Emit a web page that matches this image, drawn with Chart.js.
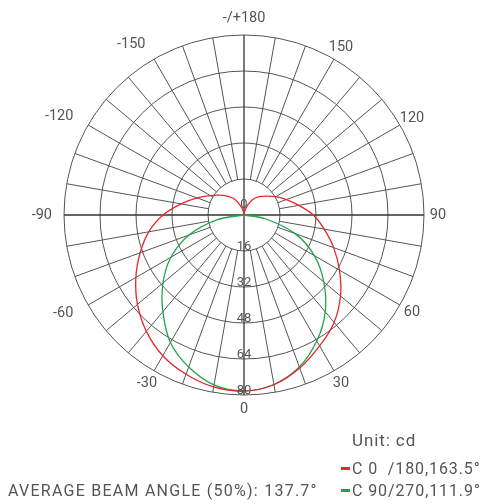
<!DOCTYPE html>
<html>
<head>
<meta charset="utf-8">
<script src="https://cdn.jsdelivr.net/npm/chart.js@4/dist/chart.umd.min.js"></script>
<style>
  html, body { margin: 0; padding: 0; background: #fff; }
  #wrap { position: relative; width: 485px; height: 504px; }
  .note { position: absolute; font-family: Roboto, sans-serif; color: #555; font-size: 16px; white-space: pre; line-height: 20px; letter-spacing: 0.9px; }
  .dash { display: inline-block; width: 9px; height: 3px; vertical-align: middle; margin-right: 2px; position: relative; top: -1px; }
</style>
</head>
<body>
<div id="wrap">
  <canvas id="polarChart" width="485" height="504"></canvas>
  <div class="note" style="left:352px; top:430px; font-size:17px;">Unit: cd</div>
  <div class="note" style="left:341px; top:459px;"><span class="dash" style="background:#e8262d"></span>C 0  /180,163.5°</div>
  <div class="note" style="left:341px; top:481px;"><span class="dash" style="background:#1ca64b"></span>C 90/270,111.9°</div>
  <div class="note" style="left:8px; top:481px; letter-spacing:1.25px;">AVERAGE BEAM ANGLE (50%): 137.7°</div>
</div>
<script>
// angles clockwise from the top of the diagram
const angles = [180, 170, 160, 150, 140, 130, 120, 110, 100, 90, 80, 70, 60, 50, 40, 30, 20, 10,
                0, -10, -20, -30, -40, -50, -60, -70, -80, -90, -100, -110, -120, -130, -140, -150, -160, -170];

// C0/180 plane (cd)
const c0Values = [0, 1.5, 4.7, 8.1, 10.6, 13.1, 16.3, 20.1, 24.7, 30.8, 36.2, 42.4, 49, 56, 62.3, 67.2, 72.4, 76.6,
                  78.3, 77.6, 75.3, 72.2, 67.5, 61.8, 55.5, 49.1, 43, 36, 28.4, 22.2, 17.3, 13.7, 10.8, 8, 4.2, 1.5];

// C90/270 plane (cd)
const c90Values = [0, 0, 0, 0, 0, 0, 0, 0, 0, 0, 9.6, 24.2, 36.1, 46.3, 56.2, 64.7, 71.9, 76.5,
                   78.2, 76.7, 71.9, 65.4, 56.1, 47, 37.5, 26, 12, 0, 0, 0, 0, 0, 0, 0, 0, 0];

const radialTicks = [0, 16, 32, 48, 64, 80];

const gridColor = '#555';
const textColor = '#555';

// how each angle label sits outside the outer ring
function labelPlacement(a) {
    if (a === 180) return { align: 'center', gap: 17 };
    if (a === 0 || a === -30 || a > 0) return { align: 'center', gap: 14 };
    if (a === -90) return { align: 'right', gap: 12 };
    return { align: 'right', gap: 17 };
}

// spokes, angle labels and intensity labels
const polarGrid = {
    id: 'polarGrid',
    beforeDatasetsDraw(chart) {
        const r = chart.scales.r;
        const ctx = chart.ctx;
        const inner = r.getDistanceFromCenterForValue(16);
        const outer = r.getDistanceFromCenterForValue(80);
        ctx.save();
        angles.forEach((a, i) => {
            const axis = a % 90 === 0;
            const from = r.getPointPosition(i, axis ? 0 : inner);
            const to = r.getPointPosition(i, outer);
            ctx.strokeStyle = axis ? '#333' : gridColor;
            ctx.lineWidth = axis ? 1.3 : 1;
            ctx.beginPath();
            ctx.moveTo(from.x, from.y);
            ctx.lineTo(to.x, to.y);
            ctx.stroke();
        });

        ctx.fillStyle = textColor;
        ctx.font = '14.5px Roboto, sans-serif';
        ctx.textBaseline = 'middle';
        angles.forEach((a, i) => {
            if (a % 30 !== 0) return;
            const place = labelPlacement(a);
            const p = r.getPointPosition(i, r.drawingArea + place.gap);
            ctx.textAlign = place.align;
            ctx.fillText(a === 180 ? '-/+180' : String(a), p.x, p.y);
        });
        ctx.restore();
    },
    afterDatasetsDraw(chart) {
        const r = chart.scales.r;
        const ctx = chart.ctx;
        ctx.save();
        ctx.fillStyle = textColor;
        ctx.font = '13px Roboto, sans-serif';
        ctx.textAlign = 'center';
        ctx.textBaseline = 'alphabetic';
        radialTicks.forEach(v => {
            const y = v === 0 ? r.yCenter - 7 : r.yCenter + r.getDistanceFromCenterForValue(v) - 1.5;
            ctx.fillText(String(v), r.xCenter, y);
        });
        ctx.restore();
    }
};

new Chart(document.getElementById('polarChart'), {
    type: 'radar',
    data: {
        labels: angles,
        datasets: [
            {
                label: 'C 0/180',
                data: c0Values,
                borderColor: '#e8262d',
                borderWidth: 1.3,
                backgroundColor: 'transparent',
                pointRadius: 0,
                tension: 0.35,
                fill: false
            },
            {
                label: 'C 90/270',
                data: c90Values,
                borderColor: '#1ca64b',
                borderWidth: 1.3,
                backgroundColor: 'transparent',
                pointRadius: 0,
                tension: 0.35,
                fill: false
            }
        ]
    },
    options: {
        responsive: false,
        animation: false,
        layout: { padding: { left: 64, right: 60, top: 35, bottom: 108 } },
        plugins: {
            legend: { display: false },
            tooltip: { enabled: false }
        },
        scales: {
            r: {
                min: 0,
                max: 80,
                ticks: { display: false, stepSize: 16 },
                grid: { circular: true, color: gridColor, lineWidth: 1 },
                angleLines: { display: false },
                pointLabels: { display: false }
            }
        }
    },
    plugins: [polarGrid]
});
</script>
</body>
</html>
